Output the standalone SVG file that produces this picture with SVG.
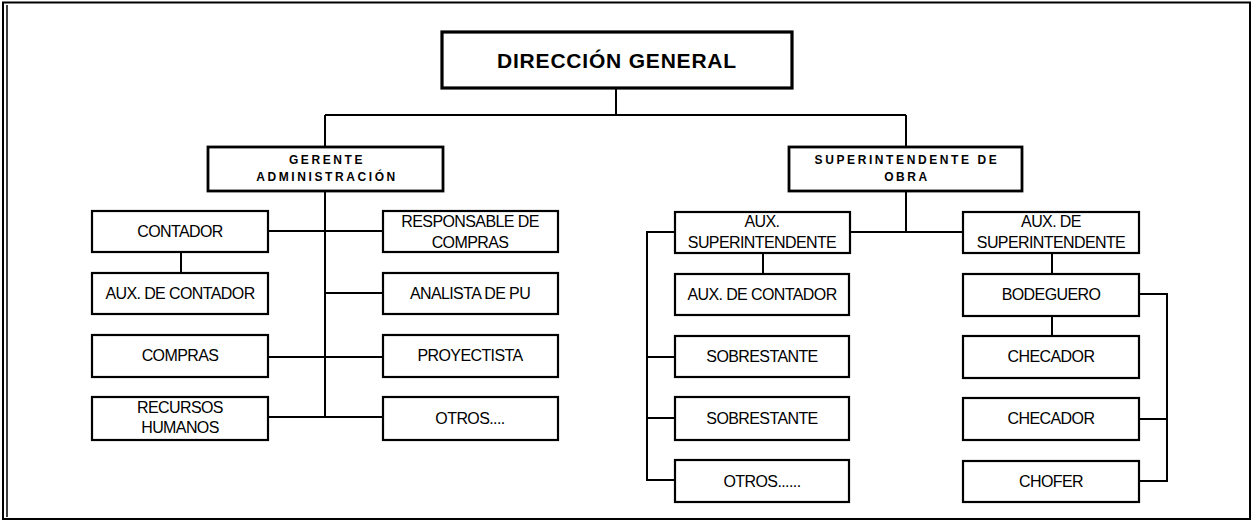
<svg xmlns="http://www.w3.org/2000/svg" width="1253" height="523" viewBox="0 0 1253 523">
<style>
.frame{fill:none;stroke:#000;stroke-width:2}
.box{fill:#fff;stroke:#000;stroke-width:2.2}
.hbox{fill:#fff;stroke:#000;stroke-width:2.8}
.top{fill:#fff;stroke:#000;stroke-width:3.2}
.c{fill:none;stroke:#000;stroke-width:2}
.t{font-family:"Liberation Sans",Arial,sans-serif;font-size:16px;letter-spacing:-0.6px;text-anchor:middle;fill:#000}
.b{font-family:"Liberation Sans",Arial,sans-serif;font-size:12px;font-weight:bold;letter-spacing:2.6px;text-anchor:middle;fill:#000}
.h{font-family:"Liberation Sans",Arial,sans-serif;font-size:21px;font-weight:bold;letter-spacing:0.8px;text-anchor:middle;fill:#000}
</style>
<rect x="0" y="0" width="1253" height="523" fill="#fff"/>
<rect class="frame" x="3" y="2.5" width="1247" height="516.5"/>
<line x1="7" y1="5" x2="7" y2="517" stroke="#000" stroke-width="1.5"/>

<g id="connectors">
<path class="c" d="M616 88V115M325 115H906M325 115V147M906 115V147"/>
<path class="c" d="M325 191V417M268 231H383M325 293H383M268 357H383M268 417H383M181 252V273"/>
<path class="c" d="M906 191V232M850 232H963M763 253V274M675 232H647V480H675M647 357H675M647 418H675"/>
<path class="c" d="M1052 253V274M1052 316V336M1139 294H1167V481H1139M1139 419H1167"/>
</g>

<g id="direccion"><rect class="top" x="442" y="32" width="350" height="56"/><text class="h" x="617" y="68">DIRECCIÓN GENERAL</text></g>

<g id="gerente"><rect class="hbox" x="208" y="147" width="235" height="44"/><text class="b" x="327" y="164">GERENTE</text><text class="b" x="327" y="181">ADMINISTRACIÓN</text></g>
<g id="superintendente"><rect class="hbox" x="789" y="147" width="233" height="44"/><text class="b" x="907" y="164">SUPERINTENDENTE DE</text><text class="b" x="907" y="181">OBRA</text></g>

<g id="contador"><rect class="box" x="92" y="211" width="176" height="41"/><text class="t" x="180" y="237">CONTADOR</text></g>
<g id="aux-contador"><rect class="box" x="92" y="273" width="176" height="41"/><text class="t" x="180" y="299">AUX. DE CONTADOR</text></g>
<g id="compras"><rect class="box" x="92" y="335" width="176" height="42"/><text class="t" x="180" y="361">COMPRAS</text></g>
<g id="recursos"><rect class="box" x="92" y="397" width="176" height="43"/><text class="t" x="180" y="413">RECURSOS</text><text class="t" x="180" y="433">HUMANOS</text></g>

<g id="responsable"><rect class="box" x="383" y="211" width="175" height="41"/><text class="t" x="470" y="227">RESPONSABLE DE</text><text class="t" x="470" y="248">COMPRAS</text></g>
<g id="analista"><rect class="box" x="383" y="273" width="175" height="41"/><text class="t" x="470" y="299">ANALISTA DE PU</text></g>
<g id="proyectista"><rect class="box" x="383" y="335" width="175" height="42"/><text class="t" x="470" y="361">PROYECTISTA</text></g>
<g id="otros1"><rect class="box" x="383" y="397" width="175" height="43"/><text class="t" x="470" y="424">OTROS....</text></g>

<g id="aux-super"><rect class="box" x="675" y="212" width="175" height="41"/><text class="t" x="762" y="227">AUX.</text><text class="t" x="762" y="248">SUPERINTENDENTE</text></g>
<g id="aux-contador2"><rect class="box" x="675" y="274" width="174" height="41"/><text class="t" x="762" y="300">AUX. DE CONTADOR</text></g>
<g id="sobrestante1"><rect class="box" x="675" y="336" width="174" height="41"/><text class="t" x="762" y="362">SOBRESTANTE</text></g>
<g id="sobrestante2"><rect class="box" x="675" y="397" width="174" height="43"/><text class="t" x="762" y="424">SOBRESTANTE</text></g>
<g id="otros2"><rect class="box" x="675" y="460" width="174" height="42"/><text class="t" x="762" y="487">OTROS......</text></g>

<g id="aux-de-super"><rect class="box" x="963" y="212" width="176" height="41"/><text class="t" x="1051" y="227">AUX. DE</text><text class="t" x="1051" y="248">SUPERINTENDENTE</text></g>
<g id="bodeguero"><rect class="box" x="963" y="274" width="176" height="42"/><text class="t" x="1051" y="300">BODEGUERO</text></g>
<g id="checador1"><rect class="box" x="963" y="336" width="176" height="42"/><text class="t" x="1051" y="362">CHECADOR</text></g>
<g id="checador2"><rect class="box" x="963" y="398" width="176" height="42"/><text class="t" x="1051" y="424">CHECADOR</text></g>
<g id="chofer"><rect class="box" x="963" y="461" width="176" height="41"/><text class="t" x="1051" y="487">CHOFER</text></g>
</svg>
